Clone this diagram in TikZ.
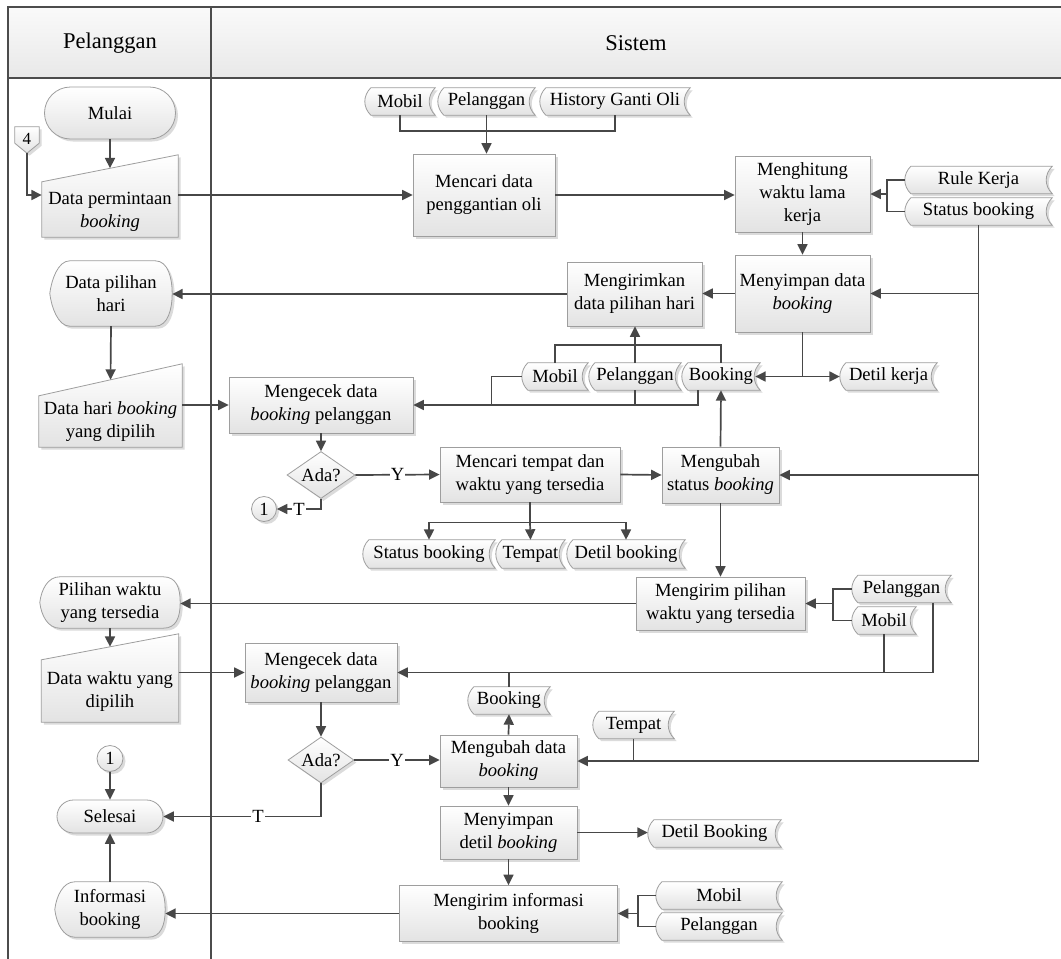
\documentclass[tikz,border=0pt]{standalone}
\usepackage{fontspec}
\setmainfont{Liberation Serif}
\usetikzlibrary{arrows.meta,shapes.misc,shapes.geometric,shadows,calc}
\pgfdeclarelayer{back}
\pgfsetlayers{back,main}

\tikzset{
  base/.style={font=\fontsize{18.6}{23}\selectfont, align=center},
  boxfill/.style={draw=black!38, line width=0.8pt, top color=white, bottom color=black!11,
    drop shadow={shadow xshift=2.5pt, shadow yshift=-2.5pt, fill=black!40, opacity=0.35}},
  proc/.style={base, boxfill, rectangle, inner sep=2pt},
  term/.style={base, boxfill, rounded rectangle, inner sep=2pt},
  dec/.style={base, boxfill, diamond, inner sep=0pt, aspect=1.4},
  conn/.style={base, boxfill, circle, inner sep=0pt},
  store/.style={base, rectangle, inner sep=0pt, minimum height=27pt},
  plain/.style={base, rectangle, inner sep=0pt},
  link/.style={line width=1.7pt, draw=black!72},
  flow/.style={link, -{Triangle[length=10.5pt,width=10pt]}},
  lbl/.style={base, fill=white, inner sep=1pt},
  lane/.style={line width=1.2pt, draw=black!70},
  hdr/.style={font=\fontsize{22.5}{26}\selectfont},
}

% data store outline: convex left side, concave right side
\newcommand\storepath[1]{%
  \path[boxfill] ($(#1.north west)+(6pt,0)$) -- (#1.north east)
    .. controls +(-8pt,-8pt) and +(-8pt,8pt) .. (#1.south east)
    -- ($(#1.south west)+(6pt,0)$)
    .. controls +(-8pt,8pt) and +(-8pt,-8pt) .. ($(#1.north west)+(6pt,0)$) -- cycle;}
% manual input outline: slanted top edge
\newcommand\manualpath[2]{%
  \path[boxfill] (#1.south west) -- ($(#1.north west)+(0,-#2)$) -- (#1.north east)
    -- (#1.south east) -- cycle;}
% display outline: pointed curved left side, round right side
\newcommand\displaypath[1]{%
  \path[boxfill] ($(#1.north west)+(20pt,0)$) -- ($(#1.north east)+(-17pt,0)$)
    .. controls ($(#1.north east)+(-4pt,0)$) and ($(#1.east)+(0,15pt)$) .. (#1.east)
    .. controls ($(#1.east)+(0,-15pt)$) and ($(#1.south east)+(-4pt,0)$) .. ($(#1.south east)+(-17pt,0)$)
    -- ($(#1.south west)+(20pt,0)$)
    .. controls ($(#1.south west)+(8pt,0)$) and ($(#1.west)+(1.5pt,-13pt)$) .. (#1.west)
    .. controls ($(#1.west)+(1.5pt,13pt)$) and ($(#1.north west)+(8pt,0)$) .. ($(#1.north west)+(20pt,0)$) -- cycle;}
% off-page connector outline
\newcommand\pentpath[1]{%
  \path[boxfill] (#1.north west) -- (#1.north east) -- ($(#1.south east)+(0,10pt)$)
    -- (#1.south) -- ($(#1.south west)+(0,10pt)$) -- cycle;}

\begin{document}
\begin{tikzpicture}[x=1pt,y=-1pt]
\useasboundingbox (0,0) rectangle (1061,959);

% swimlane frame
\begin{pgfonlayer}{back}
  \fill[white] (0,0) rectangle (1061,959);
  \path[top color=black!2, bottom color=black!9] (8,7) rectangle (1061,78);
  \draw[lane] (1061,7) -- (8,7) -- (8,959);
  \draw[lane] (8,78) -- (1061,78);
  \draw[lane] (211,7) -- (211,959);
\end{pgfonlayer}
\node[hdr] (hp) at (110,43) {Pelanggan};
\node[hdr] (hs) at (636,43) {Sistem};

% Pelanggan lane
\node[term, minimum width=135pt, minimum height=52pt] (mulai) at (110,113) {Mulai};
\node[plain, font=\fontsize{17}{19}\selectfont, minimum width=24pt, minimum height=26pt] (c4) at (27,140) {\raisebox{3pt}{4}};
\node[plain, minimum width=136pt, minimum height=82pt] (dp) at (110,196) {};
\node[plain] (dpt) at (110,212) {Data permintaan\\\textit{booking}};
\coordinate (dpin) at ($(dp.north)+(0,-13.5pt)$);
\node[plain, minimum width=122pt, minimum height=65pt] (dph) at (111,293.5) {Data pilihan\\hari};
\node[plain, minimum width=143pt, minimum height=83pt] (dh) at (110.5,405.5) {};
\node[plain] (dht) at (110.5,422) {Data hari \textit{booking}\\yang dipilih};
\coordinate (dhin) at ($(dh.north)+(0,-16pt)$);
\node[plain, minimum width=140pt, minimum height=51pt] (pw) at (110,602.5) {Pilihan waktu\\yang tersedia};
\node[plain, minimum width=137pt, minimum height=88pt] (dw) at (110,678) {};
\node[plain] (dwt) at (110,692) {Data waktu yang\\dipilih};
\coordinate (dwin) at ($(dw.north)+(0,-13pt)$);
\node[conn, minimum size=26pt] (c2) at (110,758.5) {1};
\node[term, minimum width=110pt, minimum height=33pt] (sel) at (110,816.5) {Selesai};
\node[plain, minimum width=110pt, minimum height=55pt] (ib) at (110,909.5) {Informasi\\booking};

% Sistem lane
\node[store, minimum width=70pt] (m0) at (400,101.5) {Mobil};
\node[store, minimum width=97pt] (p0) at (486.5,101.5) {Pelanggan};
\node[store, minimum width=150pt] (h0) at (615,101.5) {History Ganti Oli};
\node[proc, minimum width=142pt, minimum height=82pt] (mc) at (484,195) {Mencari data\\penggantian oli};
\node[proc, minimum width=135pt, minimum height=76pt] (mh) at (802.5,194) {Menghitung\\waktu lama\\kerja};
\node[store, minimum width=147pt] (rk) at (978.5,180) {Rule Kerja};
\node[store, minimum width=147pt] (sb) at (978.5,211.5) {Status booking};
\node[proc, minimum width=135pt, minimum height=77pt] (ms) at (802.5,293.5) {Menyimpan data\\\textit{booking}};
\node[proc, minimum width=135pt, minimum height=64pt] (mk) at (634.5,294) {Mengirimkan\\data pilihan hari};
\node[store, minimum width=66pt] (m1) at (555,376.5) {Mobil};
\node[store, minimum width=92pt] (p1) at (635,376.5) {Pelanggan};
\node[store, minimum width=78pt] (b1) at (721,376.5) {Booking};
\node[store, minimum width=97pt] (dk) at (888.5,376.5) {Detil kerja};
\node[proc, minimum width=184pt, minimum height=56pt] (mce1) at (321,405) {Mengecek data\\\textit{booking} pelanggan};
\node[dec, minimum width=68pt, minimum height=47pt] (d1) at (321,475) {Ada?};
\node[conn, minimum size=25pt] (c1) at (264,509) {1};
\node[proc, minimum width=180pt, minimum height=55pt] (mt) at (530,474.5) {Mencari tempat dan\\waktu yang tersedia};
\node[proc, minimum width=117pt, minimum height=56pt] (mus) at (720.5,475) {Mengubah\\status \textit{booking}};
\node[store, minimum width=132pt, minimum height=28pt] (sb2) at (429,554) {Status booking};
\node[store, minimum width=69pt, minimum height=28pt] (tp1) at (530.5,554) {Tempat};
\node[store, minimum width=118pt, minimum height=28pt] (dbk) at (626,554) {Detil booking};
\node[proc, minimum width=169pt, minimum height=53pt] (mp) at (720.5,603.5) {Mengirim pilihan\\waktu yang tersedia};
\node[store, minimum width=99pt] (pl2) at (901.5,589) {Pelanggan};
\node[store, minimum width=64pt] (m3) at (884,620.5) {Mobil};
\node[proc, minimum width=152pt, minimum height=59pt] (mc2) at (321,672.5) {Mengecek data\\\textit{booking} pelanggan};
\node[dec, minimum width=66pt, minimum height=46pt] (d2) at (321,760) {Ada?};
\node[store, minimum width=82pt] (bk2) at (509,700.5) {Booking};
\node[store, minimum width=81pt] (tp2) at (633.5,725) {Tempat};
\node[proc, minimum width=137pt, minimum height=52pt] (mdb) at (508.5,761) {Mengubah data\\\textit{booking}};
\node[proc, minimum width=137pt, minimum height=53pt] (msd) at (508.5,832.5) {Menyimpan\\detil \textit{booking}};
\node[store, minimum width=133pt] (db) at (714.5,833.5) {Detil Booking};
\node[proc, minimum width=218pt, minimum height=56pt] (mi) at (508.5,913.5) {Mengirim informasi\\booking};
\node[store, minimum width=126pt] (m4) at (719,895.5) {Mobil};
\node[store, minimum width=126pt] (p4) at (719,926.5) {Pelanggan};

% outlines of the custom shapes
\begin{pgfonlayer}{back}
  \foreach \s in {m0,p0,h0,rk,sb,m1,p1,b1,dk,sb2,tp1,dbk,pl2,m3,bk2,tp2,db,m4,p4} {\storepath{\s}}
  \manualpath{dp}{27pt}
  \manualpath{dh}{32pt}
  \manualpath{dw}{26pt}
  \displaypath{dph}
  \displaypath{pw}
  \displaypath{ib}
  \pentpath{c4}
\end{pgfonlayer}

% connectors
\draw[flow] (mulai.south) -- (dpin);
\draw[flow] (c4.south) |- (dp.west |- mc.west);
\draw[flow] (dp.east |- mc.west) -- (mc.west);
\draw[link] (m0.south) -- ++(0,-16pt) -| (h0.south);
\draw[flow] (p0.south) -- (p0.south |- mc.north);
\draw[flow] (mc.east) -- (mc.east -| mh.west);
\coordinate (br1) at (887,194);
\draw[link] (rk.west) -| (br1) |- (sb.west);
\draw[flow] (br1) -- (br1 -| mh.east);
\draw[flow] (mh.south) -- (ms.north);
\draw[flow] (ms.west) -- (ms.west -| mk.east);
\draw[flow] (mk.west) -- (mk.west -| dph.east);
\draw[flow] (sb.south) |- (mdb.east);
\draw[flow] (sb.south |- ms.east) -- (ms.east);
\draw[flow] (sb.south |- mus.east) -- (mus.east);
\draw[flow] (p1.north) -- (p1.north |- mk.south);
\draw[link] (m1.north) -- ++(0,18pt) -| (b1.north);
\coordinate (j1) at (ms.south |- b1.east);
\draw[link] (ms.south) -- (j1);
\draw[flow] (j1) -- ($(b1.east)+(-5pt,0)$);
\draw[flow] (j1) -- (dk.west);
\draw[flow] ($(b1.south)+(-23pt,0)$) |- (mce1.east);
\draw[link] (p1.south) -- (p1.south |- mce1.east);
\draw[link] (m1.west) -| ($(mce1.east)+(78pt,0)$);
\draw[flow] (dph.south) -- (dhin);
\draw[flow] (dh.east |- mce1.west) -- (mce1.west);
\draw[flow] (mce1.south) -- (d1.north);
\draw[flow] (d1.east) -- node[lbl]{Y} (mt.west);
\draw[flow] (d1.south) |- node[lbl, pos=0.75]{T} (c1.east);
\draw[flow] (mt.east) -- (mus.west);
\draw[flow] (mus.north) -- (b1.south);
\coordinate (j2) at ($(mt.south)+(0,-20pt)$);
\draw[link] (mt.south) -- (j2);
\draw[flow] (j2) -| (sb2.north);
\draw[flow] (j2) -- (tp1.north);
\draw[flow] (j2) -| (dbk.north);
\draw[flow] (mus.south) -- (mp.north);
\coordinate (br2) at (833,603.5);
\draw[link] (pl2.west) -| (br2) |- (m3.west);
\draw[flow] (br2) -- (mp.east);
\draw[flow] (mp.west) -- (mp.west -| pw.east);
\draw[flow] ($(pl2.south)+(31.5pt,0)$) |- (mc2.east);
\draw[link] (m3.south) -- (m3.south |- mc2.east);
\draw[link] (bk2.north) -- (bk2.north |- mc2.east);
\draw[flow] (pw.south) -- (dwin);
\draw[flow] (dw.east |- mc2.west) -- (mc2.west);
\draw[flow] (mc2.south) -- (d2.north);
\draw[flow] (d2.east) -- node[lbl]{Y} (d2.east -| mdb.west);
\draw[flow] (d2.south) |- node[lbl, pos=0.7]{T} (sel.east);
\draw[flow] (c2.south) -- (sel.north);
\draw[flow] (ib.north) -- (sel.south);
\draw[flow] (mdb.north) -- (bk2.south);
\draw[link] (tp2.south) -- (tp2.south |- mdb.east);
\draw[flow] (mdb.south) -- (msd.north);
\draw[flow] (msd.east) -- (msd.east -| db.west);
\draw[flow] (msd.south) -- (mi.north);
\coordinate (br3) at (638,913.5);
\draw[link] (m4.west) -| (br3) |- (p4.west);
\draw[flow] (br3) -- (mi.east);
\draw[flow] (mi.west) -- (mi.west -| ib.east);
\end{tikzpicture}
\end{document}
